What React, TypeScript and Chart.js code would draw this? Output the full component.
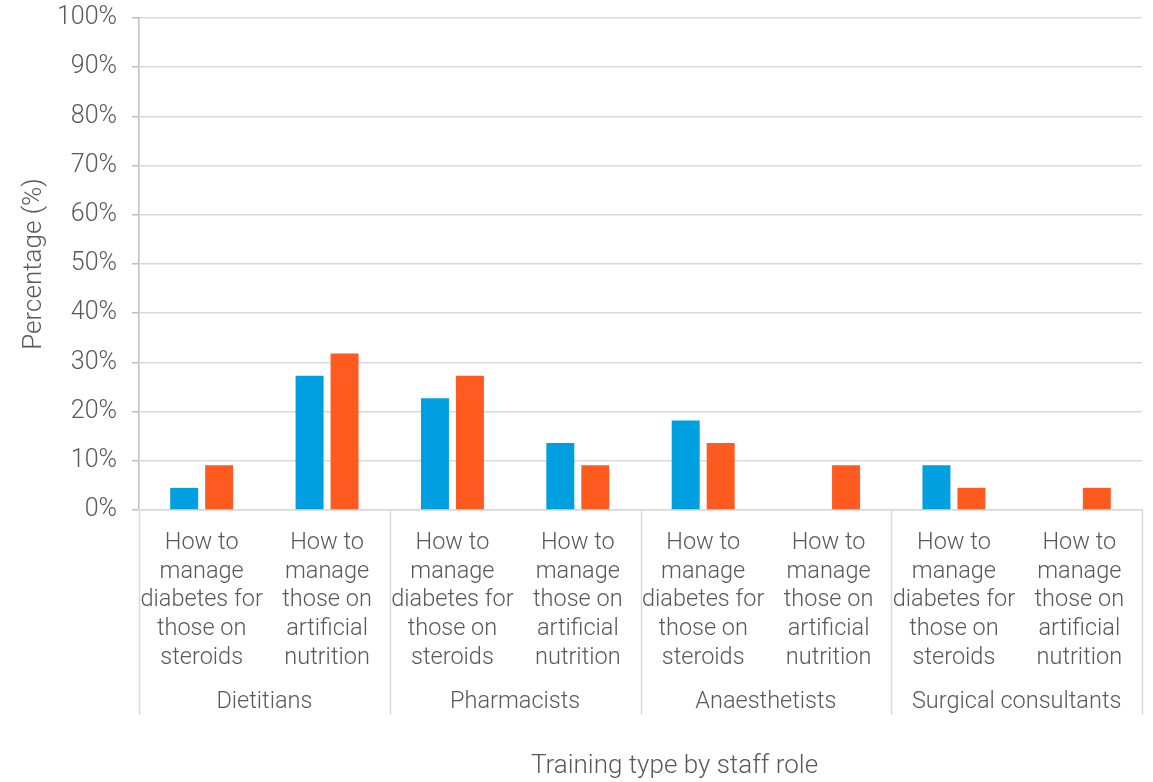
import React, { useEffect, useRef } from "react";
import { Chart, registerables } from "chart.js";

Chart.register(...registerables);

// Staff roles (outer axis level)
const roles = ["Dietitians", "Pharmacists", "Anaesthetists", "Surgical consultants"];

// Training types (inner axis level), repeated for each role
const steroidsLabel = ["How to", "manage", "diabetes for", "those on", "steroids"];
const nutritionLabel = ["How to", "manage", "those on", "artificial", "nutrition"];
const trainingLabels = [
  steroidsLabel, nutritionLabel,
  steroidsLabel, nutritionLabel,
  steroidsLabel, nutritionLabel,
  steroidsLabel, nutritionLabel,
];

// Percentages for the two series, in the order of trainingLabels
const blueValues = [4.5, 27.3, 22.7, 13.6, 18.2, 0, 9.1, 0];
const orangeValues = [9.1, 31.8, 27.3, 9.1, 13.6, 9.1, 4.5, 4.5];

const yTicks = [0, 10, 20, 30, 40, 50, 60, 70, 80, 90, 100];

const xTitle = "Training type by staff role";
const yTitle = "Percentage (%)";

const TEXT = "#595959";
const FONT = "Roboto, 'Liberation Sans', sans-serif";
const LABEL_SIZE = 23.5;
const TICK_SIZE = 25;
const TITLE_SIZE = 26;

// Vertical separators between role groups below the plot, plus the x-axis title
const groupSeparators = {
  id: "groupSeparators",
  afterDraw(chart: any) {
    const x2 = chart.scales.x2;
    const area = chart.chartArea;
    const ctx = chart.ctx;
    ctx.save();
    ctx.strokeStyle = "#d9d9d9";
    ctx.lineWidth = 1.5;
    for (let i = 0; i <= roles.length; i++) {
      const px = Math.round(x2.getPixelForValue(i - 0.5)) + 0.5;
      ctx.beginPath();
      ctx.moveTo(px, area.bottom);
      ctx.lineTo(px, x2.top + 37);
      ctx.stroke();
    }
    ctx.fillStyle = TEXT;
    ctx.font = `300 ${TITLE_SIZE}px ${FONT}`;
    ctx.textAlign = "center";
    ctx.textBaseline = "alphabetic";
    ctx.fillText(xTitle, (x2.left + x2.right) / 2 + 34, x2.bottom - 9);
    ctx.restore();
  },
};

export default function App() {
  const canvasRef = useRef<HTMLCanvasElement>(null);

  useEffect(() => {
    const canvas = canvasRef.current;
    if (!canvas) return;
    const chart = new Chart(canvas, {
      type: "bar",
      data: {
        labels: trainingLabels as any,
        datasets: [
          {
            label: "Steroids",
            data: blueValues,
            backgroundColor: "#009fe0",
            categoryPercentage: 0.558,
            barPercentage: 0.8,
          },
          {
            label: "Artificial nutrition",
            data: orangeValues,
            backgroundColor: "#ff5a1f",
            categoryPercentage: 0.558,
            barPercentage: 0.8,
          },
        ],
      },
      options: {
        responsive: false,
        animation: false,
        layout: { padding: { top: 18, right: 11, bottom: 0, left: 0 } },
        plugins: {
          legend: { display: false },
          tooltip: { enabled: false },
        },
        scales: {
          y: {
            min: 0,
            max: 100,
            afterFit(scale: any) {
              scale.width = 139;
              scale.paddingTop = 8;
              scale.paddingBottom = 8;
            },
            afterBuildTicks(scale: any) {
              scale.ticks = yTicks.map((v) => ({ value: v }));
            },
            ticks: {
              padding: 15,
              color: TEXT,
              font: { family: FONT, size: TICK_SIZE, weight: 300 },
              callback: (v: any) => v + "%",
            },
            grid: {
              color: "#d9d9d9",
              lineWidth: 1.5,
              tickColor: "#bfbfbf",
              tickLength: 7,
            },
            border: { color: "#bfbfbf", width: 1.5 },
            title: {
              display: true,
              text: yTitle,
              color: TEXT,
              font: { family: FONT, size: TITLE_SIZE, weight: 300 },
              padding: { top: 19, bottom: 0 },
            },
          },
          x: {
            afterFit(scale: any) {
              scale.height = 168;
            },
            ticks: {
              color: TEXT,
              padding: 19,
              maxRotation: 0,
              autoSkip: false,
              font: { family: FONT, size: LABEL_SIZE, weight: 300, lineHeight: 1.217 },
            },
            grid: { display: false, drawTicks: false },
            border: { color: "#d9d9d9", width: 1.5 },
          },
          x2: {
            type: "category",
            position: "bottom",
            labels: roles,
            offset: true,
            afterFit(scale: any) {
              scale.height = 104;
            },
            ticks: {
              color: TEXT,
              padding: 10,
              maxRotation: 0,
              autoSkip: false,
              font: { family: FONT, size: LABEL_SIZE, weight: 300, lineHeight: 1.217 },
            },
            grid: { display: false, drawTicks: false },
            border: { display: false },
          },
        },
      },
      plugins: [groupSeparators],
    });
    return () => chart.destroy();
  }, []);

  return (
    <div style={{ position: "absolute", left: 0, top: 0, width: 1153, height: 782, background: "#fff" }}>
      <canvas ref={canvasRef} width={1153} height={782} style={{ width: 1153, height: 782, display: "block" }} />
    </div>
  );
}
